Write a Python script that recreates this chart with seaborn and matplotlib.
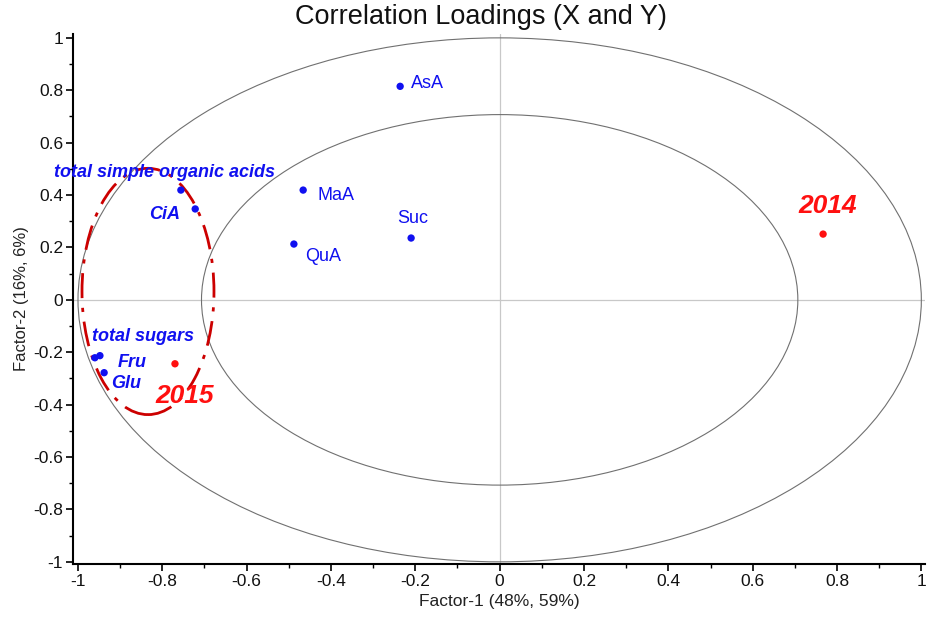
import numpy as np
import pandas as pd
import matplotlib
matplotlib.use("Agg")
import matplotlib.pyplot as plt
from matplotlib.patches import Ellipse, Circle
import seaborn as sns

# ---- data ----
x_vars = ["AsA", "MaA", "QuA", "Suc", "total simple organic acids", "CiA",
          "total sugars", "Fru", "Glu"]
x_f1 = [-0.236, -0.466, -0.488, -0.210, -0.756, -0.722, -0.960, -0.948, -0.938]
x_f2 = [0.815, 0.419, 0.213, 0.236, 0.419, 0.347, -0.221, -0.213, -0.278]

y_vars = ["2014", "2015"]
y_f1 = [0.767, -0.770]
y_f2 = [0.251, -0.244]

tick_vals = [-1, -0.8, -0.6, -0.4, -0.2, 0, 0.2, 0.4, 0.6, 0.8, 1]
tick_labels = ["-1", "-0.8", "-0.6", "-0.4", "-0.2", "0", "0.2", "0.4", "0.6", "0.8", "1"]

sns.set_theme(style="ticks")
plt.rcParams['font.family'] = ['Liberation Sans', 'DejaVu Sans']

fig = plt.figure(figsize=(9.35, 6.17), dpi=100)
ax = fig.add_axes([0.078, 0.086, 0.911, 0.859])

BLUE = "#1010f0"
RED = "#ff1010"

# reference circles
ax.add_patch(Circle((0, 0), 1.0, fill=False, ec="#707070", lw=0.8))
ax.add_patch(Circle((0, 0), np.sqrt(0.5), fill=False, ec="#707070", lw=0.8))
ax.axhline(0, color="#c8c8c8", lw=0.9, zorder=0)
ax.axvline(0, color="#c8c8c8", lw=0.9, zorder=0)

dfx = pd.DataFrame({"f1": x_f1, "f2": x_f2, "name": x_vars})
dfy = pd.DataFrame({"f1": y_f1, "f2": y_f2, "name": y_vars})
sns.scatterplot(data=dfx, x="f1", y="f2", color=BLUE, s=28, edgecolor="none", ax=ax, zorder=3)
sns.scatterplot(data=dfy, x="f1", y="f2", color=RED, s=28, edgecolor="none", ax=ax, zorder=3)

# labels (offsets in points)
plain = dict(color=BLUE, fontsize=13)
bi = dict(color=BLUE, fontsize=13, fontweight="bold", fontstyle="italic")
ax.annotate("AsA", (x_f1[0], x_f2[0]), xytext=(8, 2), textcoords="offset points", ha="left", va="center", **plain)
ax.annotate("MaA", (x_f1[1], x_f2[1]), xytext=(10, -4), textcoords="offset points", ha="left", va="center", **plain)
ax.annotate("QuA", (x_f1[2], x_f2[2]), xytext=(8, -9), textcoords="offset points", ha="left", va="center", **plain)
ax.annotate("Suc", (x_f1[3], x_f2[3]), xytext=(1, 14), textcoords="offset points", ha="center", va="center", **plain)
ax.annotate("total simple organic acids", (x_f1[4], x_f2[4]), xytext=(-12, 13), textcoords="offset points", ha="center", va="center", **bi)
ax.annotate("CiA", (x_f1[5], x_f2[5]), xytext=(-22, -4), textcoords="offset points", ha="center", va="center", **bi)
ax.annotate("total sugars", (x_f1[6], x_f2[6]), xytext=(35, 15), textcoords="offset points", ha="center", va="center", **bi)
ax.annotate("Fru", (x_f1[7], x_f2[7]), xytext=(23, -5), textcoords="offset points", ha="center", va="center", **bi)
ax.annotate("Glu", (x_f1[8], x_f2[8]), xytext=(16, -8), textcoords="offset points", ha="center", va="center", **bi)

big = dict(color=RED, fontsize=19, fontweight="bold", fontstyle="italic")
ax.annotate("2014", (y_f1[0], y_f2[0]), xytext=(3, 20), textcoords="offset points", ha="center", va="center", **big)
ax.annotate("2015", (y_f1[1], y_f2[1]), xytext=(7, -23), textcoords="offset points", ha="center", va="center", **big)

# dash-dot grouping ellipse
ax.add_patch(Ellipse((-0.834, 0.032), 0.313, 0.94, fill=False, ec="#cc0000", lw=2.0,
                     linestyle=(0, (9, 3.5, 1.5, 3.5)), zorder=2))

ax.set_xlim(-1.012, 1.008)
ax.set_ylim(-1.008, 1.015)
ax.set_xticks(tick_vals)
ax.set_xticklabels(tick_labels)
ax.set_yticks(tick_vals)
ax.set_yticklabels(tick_labels)
ax.set_xticks(np.arange(-0.9, 1.0, 0.2), minor=True)
ax.set_yticks(np.arange(-0.9, 1.0, 0.2), minor=True)
ax.tick_params(axis="both", which="major", length=5, width=1.2, direction="out",
               labelsize=12.5, color="black", labelcolor="#111111", pad=2)
ax.tick_params(axis="both", which="minor", length=3, width=1.0, direction="out", color="black")

sns.despine(ax=ax)
for sp in ["left", "bottom"]:
    ax.spines[sp].set_linewidth(1.5)
    ax.spines[sp].set_color("black")

ax.set_xlabel("Factor-1 (48%, 59%)", fontsize=12.5, color="#222222", labelpad=4)
ax.set_ylabel("Factor-2 (16%, 6%)", fontsize=12, color="#222222", labelpad=3)
fig.text(0.514, 0.973, "Correlation Loadings (X and Y)", ha="center", va="center",
         fontsize=19.5, color="#111111")

fig.savefig("out.png", dpi=100)
